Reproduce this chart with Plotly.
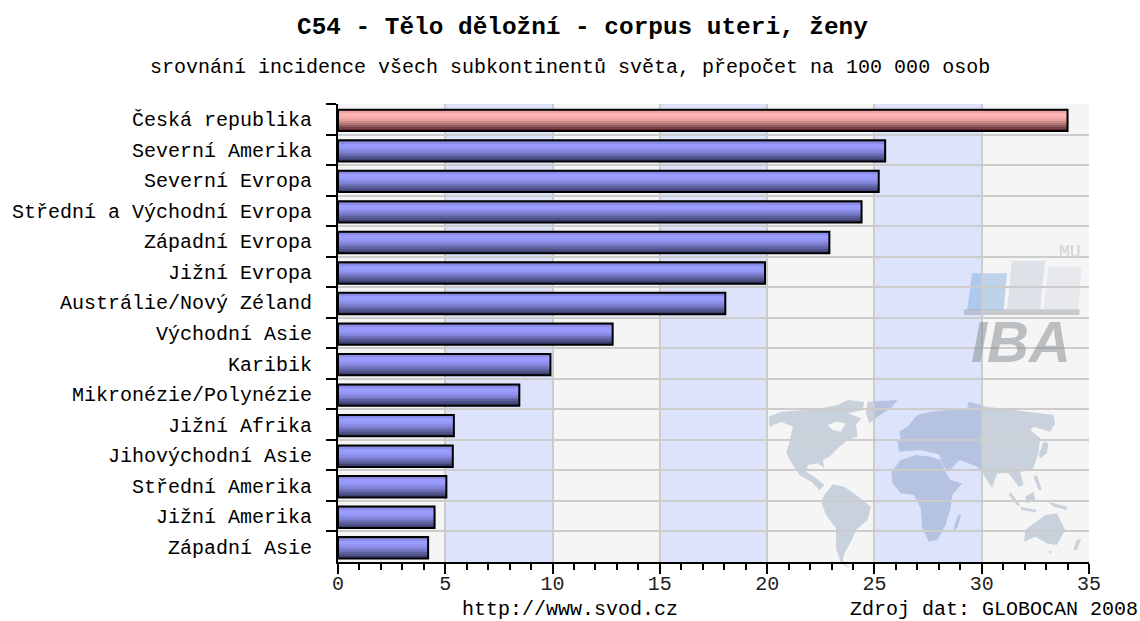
import plotly.graph_objects as go

categories = ["Česká republika", "Severní Amerika", "Severní Evropa", "Střední a Východní Evropa",
              "Západní Evropa", "Jižní Evropa", "Austrálie/Nový Zéland", "Východní Asie", "Karibik",
              "Mikronézie/Polynézie", "Jižní Afrika", "Jihovýchodní Asie", "Střední Amerika",
              "Jižní Amerika", "Západní Asie"]
values = [34.0, 25.5, 25.2, 24.4, 22.9, 19.9, 18.05, 12.8, 9.9, 8.45, 5.4, 5.35, 5.05, 4.5, 4.2]

title = "C54 - Tělo děložní - corpus uteri, ženy"
subtitle = "srovnání incidence všech subkontinentů světa, přepočet na 100 000 osob"
footer_left = "http://www.svod.cz"
footer_right = "Zdroj dat: GLOBOCAN 2008"

blue_ramp = ["#6f74b8", "#8a8ce6", "#9a9cff", "#9a9cff", "#9496f6", "#8a8ce6", "#7e80d2",
             "#6f71ba", "#5f619f", "#4e5088", "#3d3f70"]
red_ramp = ["#b88686", "#e8a4a4", "#ffb2b2", "#ffb2b2", "#f4a8a8", "#e29c9c", "#cc8c8c",
            "#b07676", "#925a5e", "#7a3f46", "#642830"]

W, H = 1140, 621
L, T, R, B = 335, 104, 1089, 562
FONT = "Liberation Mono"
BAR_SHARE = 0.70
BAR_SHIFT = 0.035


def px(x, y):
    return (x - L) / (R - L), (B - y) / (B - T)


def ring(points, ox, oy):
    pts = [px(ox + a / 3, oy + b / 3) for a, b in points]
    return "M" + " L".join(f"{a:.5f},{b:.5f}" for a, b in pts) + " Z"


def west(*rings):
    return " ".join(ring(r, 760, 395) for r in rings)


def east(*rings):
    return " ".join(ring(r, 920, 395) for r in rings)


def logo_path(points):
    return ring(points, 740, 230)


fig = go.Figure()
n = len(blue_ramp)
for i in range(n):
    fig.add_trace(go.Bar(
        x=values, y=categories, orientation="h",
        width=BAR_SHARE / n, offset=BAR_SHIFT - BAR_SHARE / 2 + i * BAR_SHARE / n,
        marker=dict(color=[red_ramp[i]] + [blue_ramp[i]] * (len(values) - 1), line=dict(width=0)),
        showlegend=False, hoverinfo="skip"))
fig.add_trace(go.Bar(
    x=values, y=categories, orientation="h", width=BAR_SHARE, offset=BAR_SHIFT - BAR_SHARE / 2,
    marker=dict(color="rgba(0,0,0,0)", line=dict(color="#000000", width=2)),
    showlegend=False))

shapes = []
for a, b in [(5, 10), (15, 20), (25, 30)]:
    shapes.append(dict(type="rect", xref="x", yref="paper", x0=a, x1=b, y0=0, y1=1,
                       fillcolor="#dce3fb", line_width=0, layer="below"))

land = [
    west([(25,95),(22,65),(60,50),(170,42),(230,30),(260,15),(310,20),(305,45),(260,55),(300,70),(285,90),
          (290,125),(260,135),(235,155),(205,185),(185,195),(190,220),(170,205),(140,210),(135,230),(165,250),
          (190,270),(175,285),(150,260),(115,240),(95,210),(75,175),(85,140),(95,95),(60,80)],
         [(215,105),(240,110),(255,85),(225,80),(200,90)]),
    west([(320,20),(410,15),(395,35),(350,65),(325,85),(315,55)]),
    west([(190,300),(215,268),(250,275),(285,300),(330,335),(320,375),(285,405),(270,440),(250,475),(245,495),
          (265,520),(240,505),(225,460),(225,400),(195,360),(180,320)]),
    east([(-88,230),(-60,195),(-15,180),(30,185),(60,195),(75,230),(90,255),(125,265),(95,300),(90,340),
          (75,390),(50,435),(25,440),(5,400),(0,340),(-20,300),(-60,295),(-85,265)]),
    east([(112,360),(122,360),(110,400),(98,405)]),
    east([(-65,110),(-40,95),(-10,60),(30,50),(140,40),(145,20),(200,35),(280,45),(400,60),(405,85),(390,110),
          (340,95),(330,105),(360,130),(355,170),(340,220),(300,232),(310,270),(295,275),(265,235),(230,235),
          (215,280),(190,240),(170,215),(120,195),(110,200),(85,230),(70,215),(55,178),(0,165),(-65,170),
          (-70,140),(-60,130)]),
    east([(370,140),(385,145),(380,175),(360,190),(355,180)]),
    east([(270,290),(300,330),(292,332),(265,300)]),
    east([(315,305),(340,290),(345,315),(320,325)]),
    east([(300,335),(350,345),(345,352),(305,345)]),
    east([(385,320),(440,335),(440,345),(400,335)]),
    east([(340,245),(350,240),(365,285),(355,285)]),
    east([(315,405),(375,360),(410,355),(435,405),(410,450),(380,445),(345,425),(312,440)]),
    east([(385,468),(395,468),(390,478)]),
    east([(470,435),(483,432),(470,465),(460,465)]),
]
for p in land:
    shapes.append(dict(type="path", xref="paper", yref="paper", path=p,
                       fillcolor="rgba(25,70,120,0.2)", line_width=0, layer="below"))

logo = [
    ([(695,130),(800,130),(790,240),(680,240)], "rgba(90,150,215,0.35)"),
    ([(815,92),(915,92),(900,238),(800,238)], "rgba(150,170,195,0.25)"),
    ([(925,110),(1025,110),(1015,238),(910,238)], "rgba(170,185,205,0.18)"),
    ([(670,238),(1018,238),(1018,255),(670,255)], "rgba(130,140,150,0.4)"),
]
for poly, col in logo:
    shapes.append(dict(type="path", xref="paper", yref="paper", path=logo_path(poly),
                       fillcolor=col, line_width=0, layer="below"))


def label(text, x, y, size, bold=False, color="#000000", anchor="center", family=FONT, italic=False):
    xp, yp = px(x, y)
    return dict(text=f"<b>{text}</b>" if bold else text, x=xp, y=yp, xref="paper", yref="paper",
                xanchor=anchor, yanchor="middle", showarrow=False,
                font=dict(family=family, size=size, color=color, style="italic" if italic else "normal"))


annotations = [
    label(title, 580, 27, 24.4, bold=True),
    label(subtitle, 568, 67, 20),
    label(footer_left, 568, 609.5, 20),
    label(footer_right, 1140, 609.5, 20, anchor="right"),
    label("IBA", 1021, 341, 58, bold=True, color="rgba(130,135,140,0.5)", family="Liberation Sans", italic=True),
    label("MU", 1070, 252, 18, color="#d2d2d2"),
]

fig.update_layout(
    width=W, height=H, autosize=False,
    margin=dict(l=L, r=W - R, t=T, b=H - B, pad=0),
    paper_bgcolor="#ffffff", plot_bgcolor="#f5f5f5",
    barmode="overlay", bargap=0.3, showlegend=False,
    shapes=shapes, annotations=annotations,
    font=dict(family=FONT, size=20, color="#000000"),
    xaxis=dict(range=[0, 35], dtick=5, tick0=0, showgrid=True, gridcolor="#cccccc", gridwidth=2,
               ticks="outside", ticklen=10, tickwidth=2, tickcolor="#000000",
               minor=dict(dtick=1, ticks="outside", ticklen=6, tickwidth=2, tickcolor="#000000", showgrid=False),
               showline=True, linecolor="#000000", linewidth=2, zeroline=False, ticklabelstandoff=-8,
               tickfont=dict(family=FONT, size=20, color="#222222")),
    yaxis=dict(type="category", categoryorder="array", categoryarray=categories, autorange=False,
               range=[len(categories) - 0.5, -0.5], tickson="boundaries", showgrid=True,
               gridcolor="#cccccc", gridwidth=2, ticks="outside", ticklen=10, tickwidth=2,
               tickcolor="#000000", ticklabelstandoff=20, showline=True, linecolor="#000000",
               linewidth=2, zeroline=False, tickfont=dict(family=FONT, size=20, color="#000000")),
)

fig.write_html("out.html", config={"displayModeBar": False},
               post_script="document.body.style.margin='0';document.body.style.overflow='hidden';")
